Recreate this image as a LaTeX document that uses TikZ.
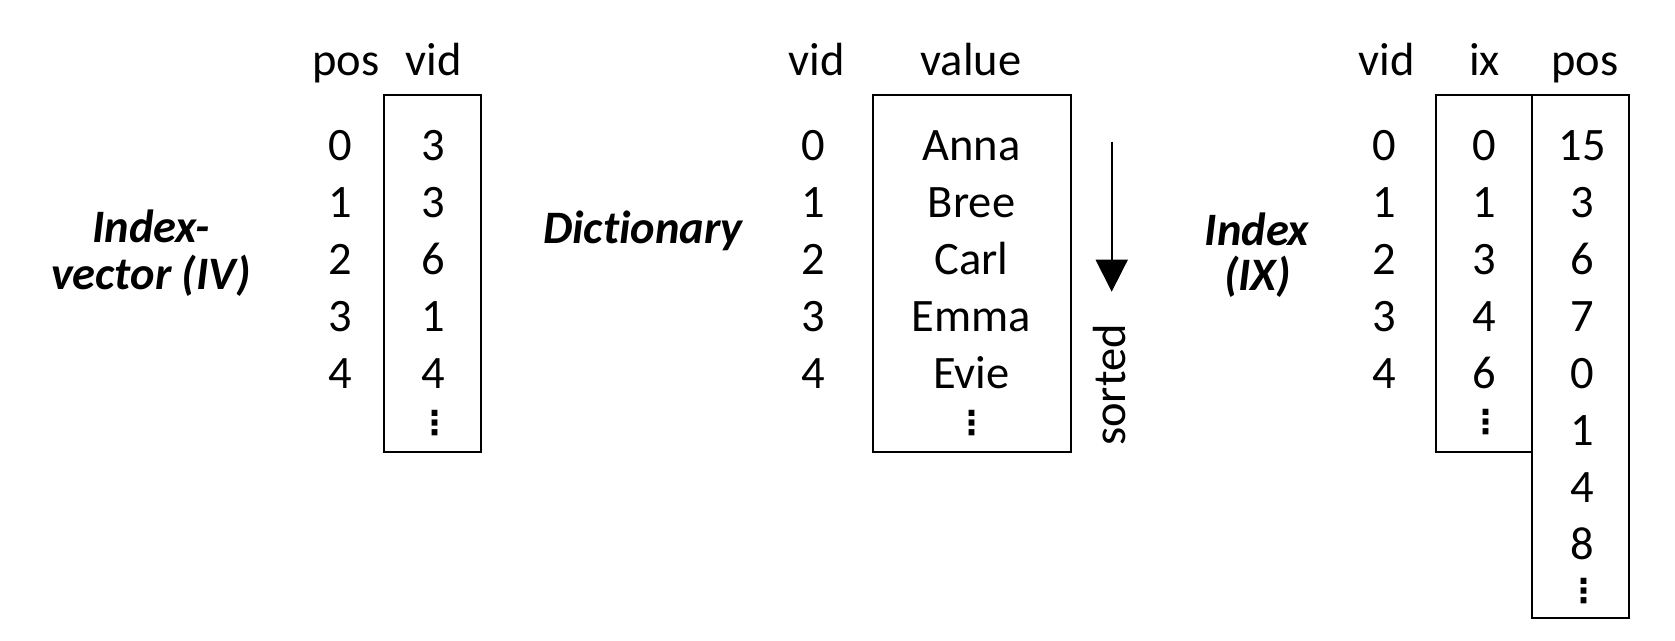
\documentclass[tikz,border=0pt]{standalone}
\usepackage{fontspec}
\setmainfont{Carlito}[Ligatures=NoCommon]
\newfontfamily\dotsfont{DejaVu Sans Bold}
\usetikzlibrary{arrows.meta}
\begin{document}
\begin{tikzpicture}[x=1pt,y=-1pt,
  txt/.style={inner sep=0pt, anchor=base, font=\fontsize{46.5}{54}\selectfont},
  lab/.style={inner sep=0pt, anchor=base, font=\fontsize{46.5}{54}\selectfont\bfseries\itshape},
  col/.style={draw=black, line width=1.8pt},
  dotsn/.style={inner sep=0pt, font=\dotsfont\fontsize{33}{33}\selectfont},
  sortarrow/.style={line width=1.7pt, -{Triangle[width=32pt,length=32pt]}}]
\useasboundingbox (0,0) rectangle (1675,640);

% ---------- Index-vector ----------
\node[lab] (ivA) at (151,242) {Index-};
\node[lab] (ivB) at (151,289) {vector (IV)};
\node[txt] (ivhpos) at (346,75) {pos};
\node[txt] (ivhvid) at (434,75) {vid};
\draw[col] (384,95) rectangle (481,452);
\foreach \p/\v [count=\i from 0] in {0/3,1/3,2/6,3/1,4/4}{
  \node[txt] (ivp\i) at (340.5,160.7+56.9*\i) {\p};
  \node[txt] (ivv\i) at (433,160.7+56.9*\i) {\v};
}
\node[dotsn] (ivdots) at (435,423) {⋮};

% ---------- Dictionary ----------
\node[lab] (dictlab) at (643,243) {Dictionary};
\node[txt] (dhvid) at (817,75) {vid};
\node[txt] (dhval) at (971,75) {value};
\draw[col] (873,95) rectangle (1071,452);
\foreach \p/\v [count=\i from 0] in {0/Anna,1/Bree,2/Carl,3/Emma,4/Evie}{
  \node[txt] (dv\i) at (813,160.7+56.9*\i) {\p};
  \node[txt] (dn\i) at (971.5,160.7+56.9*\i) {\v};
}
\node[dotsn] (ddots) at (971.7,423.5) {⋮};
\coordinate (arrS) at (1111.7,141.7);
\coordinate (arrE) at (1111.7,291.7);
\draw[sortarrow] (arrS) -- (arrE);
\node[txt, rotate=90] (sorted) at (1125,385) {sorted};

% ---------- Index ----------
\node[lab] (ixA) at (1257,245) {Index};
\node[lab] (ixB) at (1257.5,290) {(IX)};
\node[txt] (xhvid) at (1387,75) {vid};
\node[txt] (xhix) at (1484.5,75) {ix};
\node[txt] (xhpos) at (1585,75) {pos};
\draw[col] (1436,95) rectangle (1532,452);
\draw[col] (1532,95) rectangle (1629,618);
\foreach \p/\v [count=\i from 0] in {0/0,1/1,2/3,3/4,4/6}{
  \node[txt] (xv\i) at (1384.7,160.7+56.9*\i) {\p};
  \node[txt] (xi\i) at (1484,160.7+56.9*\i) {\v};
}
\foreach \v [count=\i from 0] in {15,3,6,7,0,1,4,8}{
  \node[txt] (xp\i) at (1582,160.7+56.9*\i) {\v};
}
\node[dotsn] (xidots) at (1486,421.7) {⋮};
\node[dotsn] (xpdots) at (1583.7,591) {⋮};
\end{tikzpicture}
\end{document}
